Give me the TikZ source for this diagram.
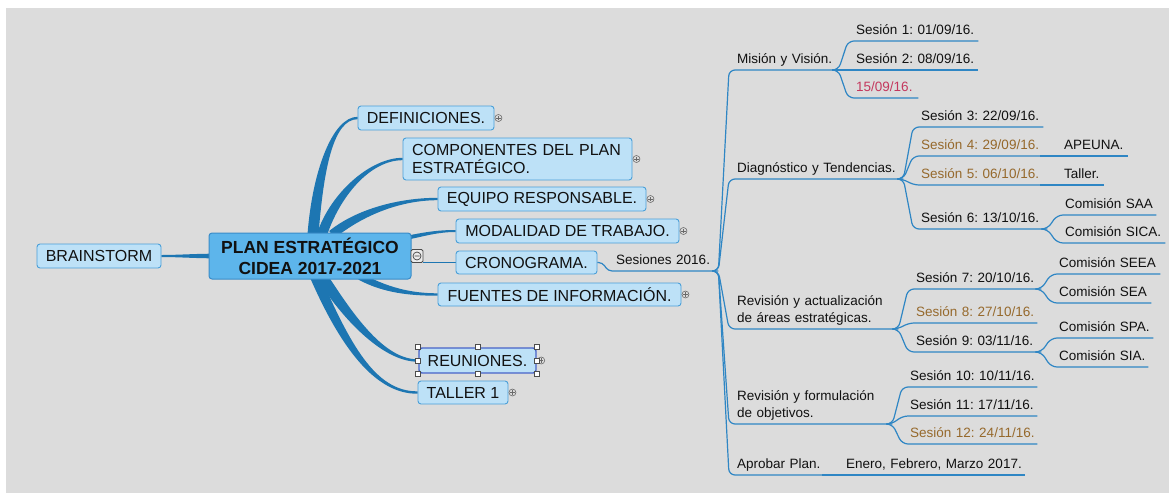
\documentclass[tikz,border=0pt]{standalone}
\usepackage{fontspec}
\setmainfont{Liberation Sans}
\usetikzlibrary{calc}
\frenchspacing
\definecolor{bgc}{HTML}{DCDCDC}
\definecolor{boxfill}{HTML}{BDE1F7}
\definecolor{boxdraw}{HTML}{4A9FD8}
\definecolor{cenfill}{HTML}{5DB5EB}
\definecolor{cendraw}{HTML}{3A8CC8}
\definecolor{fanc}{HTML}{1D76B2}
\definecolor{linec}{HTML}{2F86C4}
\definecolor{redt}{HTML}{C4385E}
\definecolor{brownt}{HTML}{96692C}
\definecolor{icong}{HTML}{6A6A6A}
\definecolor{selc}{HTML}{4863C8}
\definecolor{txt}{HTML}{111111}
\pgfdeclarelayer{back}
\pgfdeclarelayer{fan}
\pgfsetlayers{back,fan,main}
\newcommand\mmt[1]{\mbox{#1}}
\newcommand\mmtaper[6]{%
 \fill[fanc] ($(#1)!#5!90:(#2)$) .. controls ($(#2)!#5!-90:(#1)$) and ($(#3)!#6!90:(#4)$) .. ($(#4)!#6!-90:(#3)$) -- ($(#4)!#6!90:(#3)$) .. controls ($(#3)!#6!-90:(#4)$) and ($(#2)!#5!90:(#1)$) .. ($(#1)!#5!-90:(#2)$) -- cycle;}
\tikzset{
 box/.style={draw=boxdraw, fill=boxfill, line width=0.9pt, rounded corners=3pt, font=\fontsize{16}{18}\selectfont, inner xsep=8pt, inner ysep=2pt, minimum height=24pt, text=txt},
 cenbox/.style={draw=cendraw, fill=cenfill, line width=1pt, rounded corners=3pt, minimum width=202pt, minimum height=46pt, align=center, font=\fontsize{17.5}{21}\selectfont\bfseries, inner sep=2pt, text=txt},
 tp/.style={anchor=south west, text width=#1, align=left, inner xsep=8pt, inner ysep=0pt, text depth=6pt, font=\fontsize{13.5}{17}\selectfont, text=txt},
 tp2/.style={tp=#1, text depth=23pt},
 ln/.style={draw=linec, line width=1.2pt, rounded corners=6pt},
 plusic/.style={circle, draw=icong, line width=0.6pt, inner sep=0pt, minimum size=7pt, path picture={\draw[icong, line width=0.6pt] ([xshift=-2.2pt]path picture bounding box.center) -- ([xshift=2.2pt]path picture bounding box.center) ([yshift=-2.2pt]path picture bounding box.center) -- ([yshift=2.2pt]path picture bounding box.center);}},
 colic/.style={rectangle, rounded corners=1.5pt, draw=black!70, fill=black!8, line width=0.8pt, minimum width=12pt, minimum height=13pt, inner sep=0pt, path picture={\draw[black!75, line width=0.7pt] (path picture bounding box.center) circle (4pt) ([xshift=-2.5pt]path picture bounding box.center) -- ([xshift=2.5pt]path picture bounding box.center);}},
 hdl/.style={rectangle, draw=black!70, fill=white, line width=0.7pt, minimum size=5pt, inner sep=0pt}
}
\begin{document}
\begin{tikzpicture}[x=1pt,y=-1pt]
\begin{pgfonlayer}{back}
\fill[white] (0,0) rectangle (1169,493);
\fill[bgc] (6,8) rectangle (1169,493);
\end{pgfonlayer}
\useasboundingbox (0,0) rectangle (1169,493);

% main topic and boxes
\node[cenbox] (cen) at (310,256) {PLAN ESTRATÉGICO\\CIDEA 2017-2021};
\node[box, minimum width=124pt] (brain) at (99,256) {BRAINSTORM};
\node[box, minimum width=136pt] (def) at (426,118) {DEFINICIONES.};
\node[box, minimum width=229pt, minimum height=42pt, text width=211pt, align=left, inner xsep=9pt] (comp) at (517.5,159) {COMPONENTES DEL PLAN\\ESTRATÉGICO.};
\node[box, minimum width=208pt] (equipo) at (542,199) {EQUIPO RESPONSABLE.};
\node[box, minimum width=223pt] (modal) at (567.5,231) {MODALIDAD DE TRABAJO.};
\node[box, minimum width=141pt, minimum height=23pt] (crono) at (526.5,262.5) {CRONOGRAMA.};
\node[box, minimum width=243pt, minimum height=23pt] (fuentes) at (559.5,294.5) {FUENTES DE INFORMACIÓN.};
\node[box, minimum width=117pt, minimum height=25pt, draw=selc, line width=1.4pt] (reun) at (477.5,360.5) {REUNIONES.};
\node[box, minimum width=90pt, minimum height=23pt] (taller1) at (463,392.5) {TALLER 1};

% icons
\node[plusic] (p1) at ([xshift=4pt]def.east) {};
\node[plusic] (p2) at ([xshift=4pt]comp.east) {};
\node[plusic] (p3) at ([xshift=4pt]equipo.east) {};
\node[plusic] (p4) at ([xshift=4pt]modal.east) {};
\node[plusic] (p5) at ([xshift=4pt]fuentes.east) {};
\node[plusic] (p6) at ([xshift=4.5pt]reun.east) {};
\node[plusic] (p7) at ([xshift=4pt]taller1.east) {};
\node[colic] (col) at (417,256) {};
\foreach \a [count=\i] in {north west,north,north east,west,east,south west,south,south east}
  \node[hdl] (h\i) at (reun.\a) {};

% tapered branches
\coordinate (b1) at ($(cen.north)+(3,2)$);
\coordinate (b2) at ($(cen.north)+(12,2)$);
\coordinate (b3) at ($(cen.north)+(22,2)$);
\coordinate (b4) at ($(cen.north east)+(-8,6)$);
\coordinate (b5) at ($(cen.south)+(50,-3)$);
\coordinate (b6) at ($(cen.south)+(12,-3)$);
\coordinate (b7) at ($(cen.south)+(5,-3)$);
\coordinate (b8) at ($(cen.west)+(5,0)$);
\begin{pgfonlayer}{fan}
\mmtaper{b1}{318,170}{333,118}{def.west}{5.5pt}{1.2pt}
\mmtaper{b2}{335,195}{370,159}{comp.west}{5pt}{1.2pt}
\mmtaper{b3}{360,212}{400,199}{equipo.west}{4.5pt}{1.2pt}
\mmtaper{b4}{425,234}{438,231}{modal.west}{2pt}{1pt}
\mmtaper{b5}{385,290}{410,294.5}{fuentes.west}{3.5pt}{1.2pt}
\mmtaper{b6}{350,320}{385,361}{reun.west}{5.5pt}{1.2pt}
\mmtaper{b7}{345,345}{375,393}{taller1.west}{5pt}{1.2pt}
\mmtaper{b8}{195,256}{178,256}{brain.east}{2.3pt}{1pt}
\draw[fanc, line width=1.8pt] (crono.west -| col.east) -- (crono.west);
\end{pgfonlayer}

% right tree
\node[tp=94pt] (ses) at (608,271) {\mmt{Sesiones 2016.}};
\draw[ln, rounded corners=4pt] (crono.east) -- ([xshift=5pt]crono.east) -- (ses.south west) -- (ses.south east);

\node[tp=93pt] (mis) at (729,70) {\mmt{Misión y Visión.}};
\node[tp=158pt] (diag) at (729,179) {\mmt{Diagnóstico y Tendencias.}};
\node[tp2=153pt] (ract) at (729,329) {\mmt{Revisión y actualización}\\\mmt{de áreas estratégicas.}};
\node[tp2=147pt] (rform) at (729,424) {\mmt{Revisión y formulación}\\\mmt{de objetivos.}};
\node[tp=83pt] (apr) at (729,475) {\mmt{Aprobar Plan.}};
\node[tp=171pt] (ene) at (838,475) {\mmt{Enero, Febrero, Marzo 2017.}};

\node[tp=114pt] (s1) at (848,41) {\mmt{Sesión 1: 01/09/16.}};
\node[tp=114pt] (s2) at (848,70) {\mmt{Sesión 2: 08/09/16.}};
\node[tp=54pt, text=redt] (s15) at (848,98) {\mmt{15/09/16.}};

\node[tp=114pt] (s3) at (913,127) {\mmt{Sesión 3: 22/09/16.}};
\node[tp=117pt, text=brownt] (s4) at (913,156) {\mmt{Sesión 4: 29/09/16.}};
\node[tp=56pt] (ape) at (1056,156) {\mmt{APEUNA.}};
\node[tp=117pt, text=brownt] (s5) at (913,185) {\mmt{Sesión 5: 06/10/16.}};
\node[tp=32pt] (tal) at (1056,185) {\mmt{Taller.}};
\node[tp=118pt] (s6) at (913,229) {\mmt{Sesión 6: 13/10/16.}};
\node[tp=83pt] (saa) at (1057,215) {\mmt{Comisión SAA}};
\node[tp=92pt] (sica) at (1057,243) {\mmt{Comisión SICA.}};

\node[tp=117pt] (s7) at (908,289) {\mmt{Sesión 7: 20/10/16.}};
\node[tp=113pt, text=brownt] (s8) at (908,323) {\mmt{Sesión 8: 27/10/16.}};
\node[tp=117pt] (s9) at (908,352) {\mmt{Sesión 9: 03/11/16.}};
\node[tp=93pt] (seea) at (1051,274) {\mmt{Comisión SEEA}};
\node[tp=84pt] (sea) at (1051,303) {\mmt{Comisión SEA}};
\node[tp=86pt] (spa) at (1051,338) {\mmt{Comisión SPA.}};
\node[tp=81pt] (sia) at (1051,367) {\mmt{Comisión SIA.}};

\node[tp=119pt] (s10) at (902,387) {\mmt{Sesión 10: 10/11/16.}};
\node[tp=119pt] (s11) at (902,416) {\mmt{Sesión 11: 17/11/16.}};
\node[tp=119pt, text=brownt] (s12) at (902,444) {\mmt{Sesión 12: 24/11/16.}};

\foreach \p/\c in {ses/mis, ses/diag, ses/ract, ses/rform, ses/apr, apr/ene,
  mis/s1, mis/s2, mis/s15, diag/s3, diag/s4, diag/s5, diag/s6, s4/ape, s5/tal,
  s6/saa, s6/sica, ract/s7, ract/s8, ract/s9, s7/seea, s7/sea, s9/spa, s9/sia,
  rform/s10, rform/s11, rform/s12}
  \draw[ln] ([xshift=-6pt]\p.south east) -- (\p.south east) -- (\c.south west) -- (\c.south east);
\end{tikzpicture}
\end{document}
